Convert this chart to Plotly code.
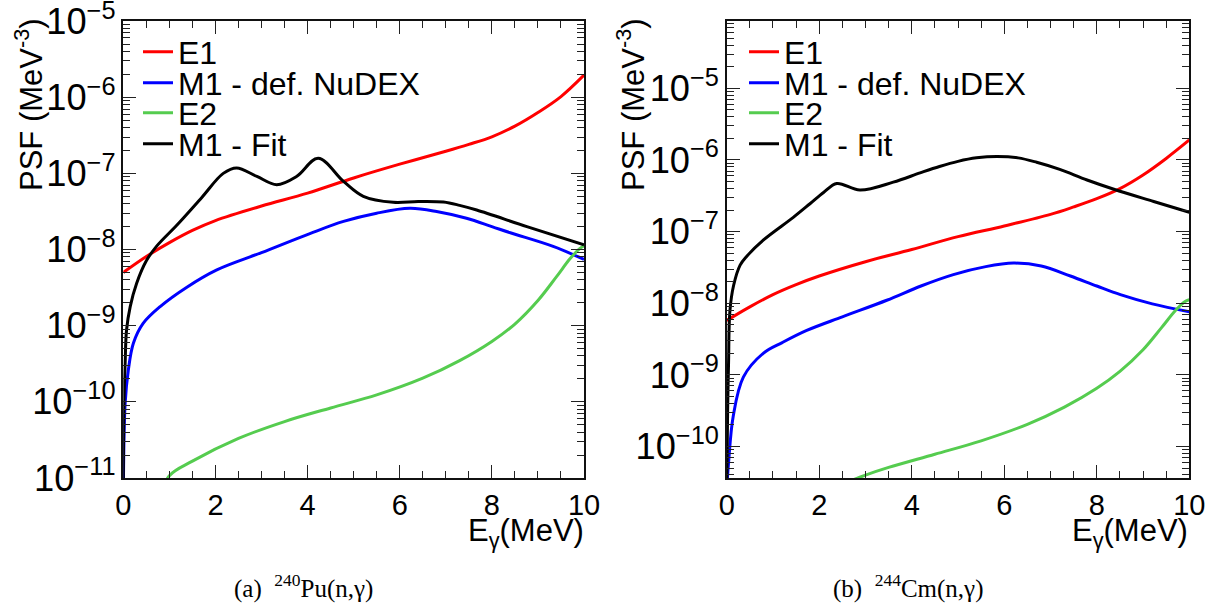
import plotly.graph_objects as go

# ---------------- data: (a) 240Pu(n,gamma) ----------------
pu_e1_x = [0.0, 0.5, 1.0, 1.5, 2.0, 3.0, 4.0, 5.0, 6.0, 7.0, 7.5, 8.0, 8.5, 9.0, 9.5, 10.0]
pu_e1_y = [5.0e-9, 8.1e-9, 1.23e-8, 1.78e-8, 2.4e-8, 3.72e-8, 5.5e-8, 8.7e-8, 1.32e-7,
           1.95e-7, 2.4e-7, 3.02e-7, 4.17e-7, 6.3e-7, 1.02e-6, 1.95e-6]

pu_m1def_x = [0.0, 0.04, 0.11, 0.22, 0.43, 0.8, 1.38, 2.03, 3.0, 4.05, 4.78, 5.5, 6.22,
              6.8, 7.45, 8.0, 8.4, 9.33, 10.0]
pu_m1def_y = [5e-12, 9.5e-11, 2.63e-10, 5.9e-10, 1.07e-9, 1.78e-9, 3.2e-9, 5.4e-9, 9.1e-9,
              1.62e-8, 2.34e-8, 3.0e-8, 3.47e-8, 3.16e-8, 2.57e-8, 2.0e-8, 1.66e-8, 1.1e-8,
              7.4e-9]

pu_e2_x = [0.8, 1.0, 1.5, 2.5, 3.5, 4.5, 5.5, 6.5, 7.3, 8.0, 8.5, 9.0, 9.4, 9.7, 9.9, 10.0]
pu_e2_y = [5.6e-12, 1.07e-11, 1.66e-11, 3.3e-11, 5.5e-11, 8.3e-11, 1.23e-10, 2.04e-10,
           3.47e-10, 6.2e-10, 1.05e-9, 2.14e-9, 4.37e-9, 7.6e-9, 1.02e-8, 1.12e-8]

pu_m1fit_x = [0.0, 0.015, 0.04, 0.07, 0.15, 0.29, 0.5, 0.72, 1.16, 1.7, 2.17, 2.46, 2.9,
              3.33, 3.76, 4.23, 4.78, 5.21, 5.86, 6.4, 6.95, 7.3, 7.67, 8.76, 10.0]
pu_m1fit_y = [8e-12, 1.0e-10, 3.2e-10, 8.7e-10, 1.78e-9, 3.6e-9, 7.1e-9, 1.1e-8, 2.08e-8,
              4.8e-8, 1.0e-7, 1.18e-7, 9.1e-8, 7.1e-8, 9.1e-8, 1.58e-7, 7.85e-8, 5.0e-8,
              4.17e-8, 4.27e-8, 4.2e-8, 3.8e-8, 3.3e-8, 2.0e-8, 1.15e-8]

# ---------------- data: (b) 244Cm(n,gamma) ----------------
cm_e1_x = [0.0, 0.5, 1.0, 1.5, 2.0, 3.0, 4.0, 5.0, 6.0, 7.0, 7.5, 8.0, 8.5, 9.0, 9.5, 10.0]
cm_e1_y = [5.75e-9, 8.9e-9, 1.32e-8, 1.82e-8, 2.4e-8, 3.8e-8, 5.62e-8, 8.5e-8, 1.2e-7,
           1.74e-7, 2.21e-7, 2.88e-7, 3.98e-7, 6.17e-7, 1.05e-6, 1.9e-6]

cm_m1def_x = [0.0, 0.04, 0.14, 0.36, 0.79, 1.2, 1.73, 2.5, 3.46, 4.2, 4.9, 5.6, 6.2, 6.8,
              7.43, 8.0, 8.51, 9.2, 10.0]
cm_m1def_y = [2.5e-11, 5.9e-11, 2.63e-10, 9.3e-10, 2.0e-9, 2.82e-9, 4.17e-9, 6.46e-9, 1.1e-8,
              1.74e-8, 2.51e-8, 3.24e-8, 3.63e-8, 3.31e-8, 2.4e-8, 1.74e-8, 1.32e-8, 9.8e-9,
              7.6e-9]

cm_e2_x = [2.6, 3.0, 3.5, 4.5, 5.5, 6.5, 7.3, 8.0, 8.5, 9.0, 9.4, 9.7, 9.9, 10.0]
cm_e2_y = [3.16e-11, 3.98e-11, 5.1e-11, 7.8e-11, 1.2e-10, 2.04e-10, 3.55e-10, 6.5e-10,
           1.12e-9, 2.24e-9, 4.57e-9, 7.9e-9, 1.05e-8, 1.12e-8]

cm_m1fit_x = [0.0, 0.02, 0.04, 0.07, 0.15, 0.29, 0.43, 0.79, 1.44, 1.8, 2.1, 2.38, 2.88, 3.6,
              4.18, 4.6, 5.0, 5.4, 5.84, 6.3, 6.7, 7.2, 7.79, 8.37, 9.23, 10.0]
cm_m1fit_y = [2.5e-11, 3.2e-10, 1.45e-9, 7.9e-9, 1.78e-8, 3.4e-8, 4.5e-8, 7.6e-8, 1.58e-7,
              2.45e-7, 3.55e-7, 4.7e-7, 3.8e-7, 4.9e-7, 6.6e-7, 8.1e-7, 9.55e-7, 1.07e-6,
              1.12e-6, 1.07e-6, 9.3e-7, 7.4e-7, 5.25e-7, 3.9e-7, 2.63e-7, 1.86e-7]

series_names = ["E1", "M1 - def. NuDEX", "E2", "M1 - Fit"]
series_colors = ["#ff0000", "#0000ff", "#55cc4f", "#000000"]

panels = [
    ("x", "y", [(pu_e1_x, pu_e1_y), (pu_m1def_x, pu_m1def_y), (pu_e2_x, pu_e2_y),
                (pu_m1fit_x, pu_m1fit_y)]),
    ("x2", "y2", [(cm_e1_x, cm_e1_y), (cm_m1def_x, cm_m1def_y), (cm_e2_x, cm_e2_y),
                  (cm_m1fit_x, cm_m1fit_y)]),
]

W, H = 1220, 603
fig = go.Figure()

legend_rows_px = [52, 83, 113, 144]
legend_left_px = [138, 744]

leg_idx = 0
layout_legends = {}
for p, (xa, ya, data) in enumerate(panels):
    for k, (xs, ys) in enumerate(data):
        leg_idx += 1
        lname = "legend" if leg_idx == 1 else f"legend{leg_idx}"
        fig.add_trace(go.Scatter(
            x=xs, y=ys, mode="lines", name=series_names[k],
            line=dict(color=series_colors[k], width=3, shape="spline", smoothing=1.0),
            xaxis=xa, yaxis=ya, legend=lname, showlegend=True,
        ))
        layout_legends[lname] = dict(
            x=legend_left_px[p] / W, y=1 - legend_rows_px[k] / H,
            xanchor="left", yanchor="middle",
            bgcolor="rgba(0,0,0,0)", borderwidth=0,
            font=dict(family="Liberation Sans, Arial, sans-serif", size=32, color="#000"),
            itemwidth=30, tracegroupgap=0,
        )

axis_font = dict(family="Liberation Sans, Arial, sans-serif", size=29, color="#000")

def xaxis_cfg(domain, anchor):
    return dict(domain=domain, anchor=anchor, range=[0, 10], dtick=2, tick0=0,
                ticks="inside", ticklen=13, tickwidth=1.2, tickcolor="#222",
                mirror="allticks", showline=True, linecolor="#111", linewidth=2,
                showgrid=False, zeroline=False, tickfont=axis_font, automargin=False,
                ticklabeloverflow="allow",
                minor=dict(dtick=0.5, ticks="inside", ticklen=7, tickwidth=1.2,
                           tickcolor="#222", showgrid=False))

def yaxis_cfg(domain, anchor, rng):
    return dict(domain=domain, anchor=anchor, type="log", range=rng, dtick=1,
                exponentformat="power", ticks="inside", ticklen=13, tickwidth=1.2,
                tickcolor="#222", mirror="allticks", showline=True, linecolor="#111",
                linewidth=2, showgrid=False, zeroline=False, tickfont=axis_font,
                automargin=False, ticklabeloverflow="allow",
                minor=dict(dtick="D1", ticks="inside", ticklen=7, tickwidth=1.2,
                           tickcolor="#222", showgrid=False))

ydom = [1 - 478 / H, 1 - 21 / H]

fig.update_layout(
    width=W, height=H,
    margin=dict(l=0, r=0, t=0, b=0, autoexpand=False),
    paper_bgcolor="white", plot_bgcolor="white",
    xaxis=xaxis_cfg([123.3 / W, 584 / W], "y"),
    yaxis=yaxis_cfg(ydom, "x", [-11.001, -4.999]),
    xaxis2=xaxis_cfg([726.7 / W, 1189.3 / W], "y2"),
    yaxis2=yaxis_cfg(ydom, "x2", [-10.44, -4.06]),
    **layout_legends,
)

title_font = dict(family="Liberation Sans, Arial, sans-serif", size=31, color="#000")
cap_font = dict(family="Liberation Serif, Times New Roman, serif", size=25, color="#000")

annotations = [
    dict(text="PSF (MeV<sup>-3</sup>)", x=29 / W, y=1 - 105 / H, textangle=-90,
         font=title_font),
    dict(text="PSF (MeV<sup>-3</sup>)", x=631 / W, y=1 - 105 / H, textangle=-90,
         font=title_font),
    dict(text="E<sub>γ</sub>(MeV)", x=586 / W, y=1 - 533 / H, xanchor="right",
         font=title_font),
    dict(text="E<sub>γ</sub>(MeV)", x=1190 / W, y=1 - 533 / H, xanchor="right",
         font=title_font),
    dict(text="(a)\u00a0\u00a0<sup>240</sup>Pu(n,γ)", x=303 / W, y=1 - 586 / H, font=cap_font),
    dict(text="(b)\u00a0\u00a0<sup>244</sup>Cm(n,γ)", x=908 / W, y=1 - 586 / H, font=cap_font),
]
for a in annotations:
    a.update(xref="paper", yref="paper", showarrow=False)
    a.setdefault("xanchor", "center")
    a.setdefault("yanchor", "middle")
fig.update_layout(annotations=annotations)

fig.write_html(
    "out.html",
    config={"displayModeBar": False},
    post_script="document.body.style.margin='0';document.body.style.overflow='hidden';",
)
